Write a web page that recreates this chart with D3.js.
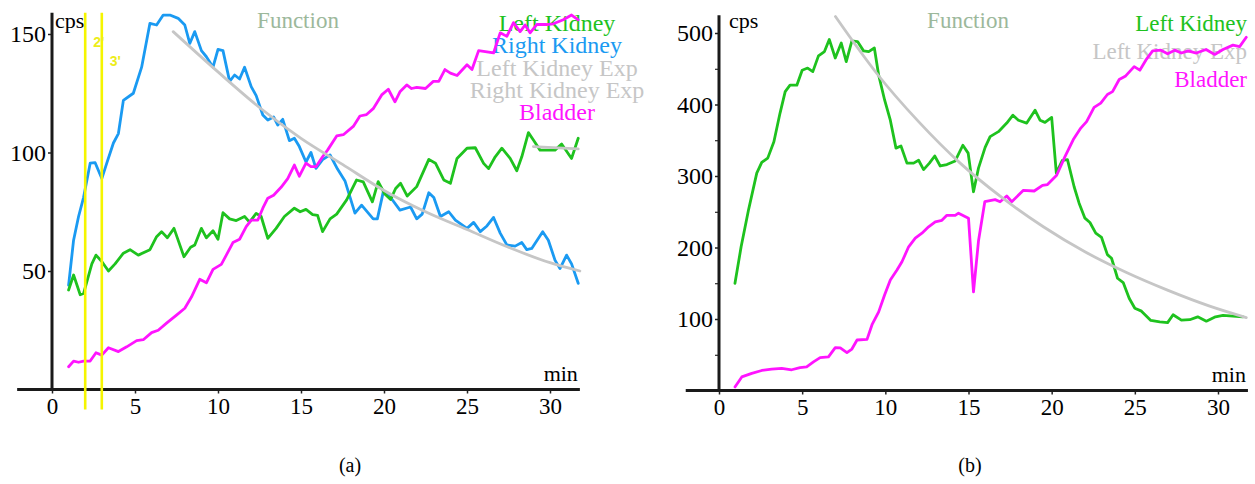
<!DOCTYPE html>
<head>
  <meta charset="utf-8">
  <script src="https://d3js.org/d3.v7.min.js"></script>
  <style>
    body { margin: 0; background: #fff; }
    svg text { font-family: "Liberation Serif", "DejaVu Serif", "Times New Roman", serif; }
    .line { fill: none; stroke-width: 2.8px; stroke-linejoin: round; stroke-linecap: round; }
    .axisline { stroke: #1a1a1a; stroke-width: 3px; }
  </style>
</head>

<body>
  <script>

    // ---- panel (a): [min, cps] ----
    var aRightKidney = [[1.0,44],[1.3,63],[1.6,73],[1.9,81],[2.3,95.5],[2.6,95.7],[3.0,89],[3.3,95.5],[3.7,104],[4.0,108],
      [4.3,122],[4.9,125],[5.4,136],[5.9,154.5],[6.3,153.8],[6.7,158],[7.1,158],[7.6,156.6],[8.0,153.8],[8.3,146],
      [8.6,151],[9.0,143],[9.3,140.4],[9.7,136],[10.0,143.5],[10.3,143],[10.7,130],[11.0,132.7],[11.3,131],[11.6,136],
      [12.0,127.8],[12.3,124],[12.7,115.8],[13.0,113.7],[13.35,115],[13.6,111.6],[13.9,114],[14.3,105],[14.6,106],[14.9,102.5],
      [15.3,96],[15.6,100],[15.9,93.3],[16.3,97],[16.75,99],[17.2,93],[17.65,88],[18.25,74.4],[18.65,77.8],[19.35,72],
      [19.6,72],[19.96,83.5],[20.4,81],[20.96,75.7],[21.6,77],[21.97,72],[22.3,74],[22.7,83],[23.0,81],[23.4,73],
      [23.9,75],[24.3,71.5],[25.0,68],[25.4,70.5],[25.8,66.6],[26.2,69],[26.6,72.6],[27.0,66],[27.4,61],[27.9,60.5],
      [28.3,62],[28.6,59],[28.9,59.5],[29.56,66.6],[29.9,63],[30.3,54.6],[30.6,51],[31.0,56.7],[31.3,53],[31.7,44.8]];

    var aLeftKidney = [[1.0,42],[1.3,48.3],[1.7,40],[1.9,40.5],[2.4,53],[2.65,56.7],[3.0,54],[3.4,50],[3.8,53],[4.3,57.5],
      [4.7,59],[5.2,56.7],[5.9,59],[6.3,64.5],[6.6,66.6],[6.95,64],[7.35,68],[7.95,56],[8.35,60],[8.6,61],
      [9.0,68],[9.3,64],[9.7,67],[10.0,63.4],[10.3,74.6],[10.7,72],[11.1,71.3],[11.6,73],[11.9,70.6],[12.3,74.3],
      [12.6,73],[13.0,63.8],[13.5,68],[14.0,73],[14.6,76.5],[14.95,75],[15.3,76],[15.7,73.8],[16.0,73.5],[16.3,66.6],
      [16.75,72],[17.15,74],[17.75,80],[18.35,88.4],[18.75,87.6],[19.3,79.2],[19.65,87.7],[20.05,82.5],[20.4,80.2],[20.7,84.8],
      [21.0,87],[21.4,81.6],[21.97,85.6],[22.7,97.1],[23.1,95.5],[23.6,88.4],[24.0,87],[24.4,97.5],[25.0,101.8],[25.5,102],
      [26.0,95.4],[26.3,93.2],[26.7,98.2],[27.1,101.8],[27.6,97.5],[28.0,92.3],[28.3,98.2],[28.7,108.4],[29.0,105.3],[29.4,101],
      [30.3,101],[30.7,103.6],[31.3,97.5],[31.7,106]];

    var aBladder = [[1.0,9.6],[1.3,12],[1.6,11.5],[1.9,12],[2.3,12],[2.65,15.5],[3.0,14.5],[3.4,17.6],[4.0,16],[4.5,18],
      [5.1,20.6],[5.5,21],[6.0,24],[6.4,25],[6.9,28],[7.5,31.4],[8.0,34.3],[8.4,39],[8.9,46.5],[9.3,45],
      [9.7,50.7],[10.2,52.8],[10.5,56.7],[10.9,62],[11.3,63.4],[11.7,68.7],[12.0,71.5],[12.4,71.5],[12.7,76.5],[13.0,80.7],
      [13.35,82],[13.8,85.3],[14.2,89],[14.6,94.7],[14.9,90],[15.3,95.5],[15.6,94],[15.9,94],[16.3,98.2],[16.6,101],
      [17.15,107],[17.55,107.5],[18.15,111],[18.55,115.4],[18.95,116],[19.35,118.5],[19.86,124.3],[20.26,126.7],[20.66,121.4],[20.96,125.6],
      [21.37,128.5],[21.66,127],[21.97,127.5],[22.5,127],[22.97,130],[23.3,130],[23.67,135],[24.0,133.5],[24.4,132.5],[25.0,137],
      [25.3,135],[25.7,143],[26.2,142.5],[26.6,142],[27.0,150.5],[27.4,149],[27.8,154.8],[28.2,151],[28.5,153.8],[28.8,150.5],
      [29.2,154],[29.8,154],[30.2,154.3],[30.8,156],[31.3,158],[31.7,156]];

    var aRightKidneyExp = [[7.3,151],[10,134],[12.5,119],[15,106],[17.5,95],[20,84],[22.5,75],[25,67.5],[27.5,60],[30,53.5],[31.8,50]];
    var aLeftKidneyExp = [[29.0,102.5],[31.7,101.5]];

    var aMarkers = [2, 3];           // minutes of the yellow lines
    var aMarkerLabels = ["2'", "3'"];

    // ---- panel (b) ----
    var bLeftKidney = [[0.96,150],[1.33,201],[1.77,252],[2.27,304],[2.57,319],[2.93,325],[3.3,348],[3.67,388],[3.98,418],[4.27,427],
      [4.68,427],[5.0,448],[5.33,451],[5.64,446],[5.98,468],[6.34,474],[6.63,491],[6.99,465],[7.35,486],[7.65,460],
      [7.99,489],[8.33,488],[8.69,475],[9.0,474],[9.34,479],[9.6,441],[9.96,406],[10.3,378],[10.64,339],[10.94,342],
      [11.3,318],[11.7,318],[12.0,322],[12.3,309],[12.65,318],[12.97,328],[13.3,314],[13.7,316],[14.2,321],[14.66,343],
      [14.98,332],[15.3,278],[15.6,311],[16.0,340],[16.3,355],[16.8,362],[17.3,374],[17.67,385],[18.0,378],[18.5,374],
      [19.0,392],[19.3,378],[19.6,375],[20.0,382],[20.28,304],[20.64,322],[20.95,323],[21.35,285],[21.65,262],[22.0,241],
      [22.3,235],[22.65,220],[23.0,214],[23.35,190],[23.6,185],[23.96,157],[24.3,151],[24.66,129],[25.0,115],[25.4,111],
      [25.96,98],[26.5,96],[26.97,95],[27.3,106],[27.8,98.5],[28.3,99],[28.78,103],[29.3,97],[29.85,103],[30.3,105],
      [30.9,104],[31.5,103]];

    var bBladder = [[0.96,5],[1.37,19],[1.97,24],[2.57,28],[3.17,30],[3.77,31],[4.37,29],[4.87,32],[5.27,33],[5.68,40],
      [6.08,46],[6.58,47],[6.99,60],[7.29,59.5],[7.69,53],[7.99,58],[8.3,70.6],[8.9,71.5],[9.2,92],[9.6,110],
      [9.96,134],[10.3,154.5],[10.7,168.5],[11.0,180],[11.4,201],[11.8,213],[12.2,220],[12.6,229],[13.0,236],[13.4,238],
      [13.7,245],[14.2,245],[14.4,248],[15.0,241],[15.3,138],[15.6,209],[15.98,264],[16.6,267],[16.9,264],[17.3,272],
      [17.6,264],[18.3,280],[18.95,279],[19.45,287],[19.75,288],[20.3,301],[20.8,327],[21.3,351],[21.75,367],[22.1,376],
      [22.55,396],[22.95,402],[23.35,414],[23.66,418],[24.06,435],[24.45,440],[24.96,453],[25.3,448],[25.66,462],[26.07,475],
      [26.57,476],[26.97,471],[27.4,476],[27.8,472],[28.2,475],[28.7,472],[29.28,477],[29.8,470],[30.3,477],[30.9,483],
      [31.3,481],[31.7,494]];

    var bLeftKidneyExp = [[7.0,523],[9.5,443],[12,376],[14.5,318],[17,270],[19.5,229],[22,194],[24.5,165],[27,140],[29.5,118],[31.7,102]];

    var xTicks = [0, 5, 10, 15, 20, 25, 30];
    var aYTicks = [50, 100, 150];
    var bYTicks = [100, 200, 300, 400, 500];
    var bYMinor = [50, 150, 250, 350, 450];

    var aLegend = ["Left Kidney", "Right Kidney", "Left Kidney Exp", "Right Kidney Exp", "Bladder"];
    var bLegend = ["Left Kidney", "Left Kidney Exp", "Bladder"];

    var col = {
      "Left Kidney": "#1ec21e",
      "Right Kidney": "#1a9af2",
      "Left Kidney Exp": "#c6c6c6",
      "Right Kidney Exp": "#c6c6c6",
      "Bladder": "#ff14ff"
    };

    var serif = '"Liberation Serif", "DejaVu Serif", serif';

    var svg = d3.select("body").append("svg")
      .attr("width", 1255)
      .attr("height", 484)
      .style("font-family", serif);

    function panel(p) {
      var x = d3.scaleLinear().domain([0, 30]).range(p.xRange);
      var y = d3.scaleLinear().domain([0, p.yTop]).range(p.yRange);
      var g = svg.append("g");

      var line = d3.line()
        .x(function(d) { return x(d[0]); })
        .y(function(d) { return y(d[1]); });
      var smooth = d3.line().curve(d3.curveMonotoneX)
        .x(function(d) { return x(d[0]); })
        .y(function(d) { return y(d[1]); });

      // titles and legend first, the curves cross over them
      g.append("text").text("Function")
        .attr("x", p.funcX).attr("y", 28)
        .attr("text-anchor", "middle")
        .style("font-family", serif)
        .style("font-size", "23px").style("fill", "#9cb89b");

      g.selectAll(".leg").data(p.legend).enter().append("text")
        .attr("class", "leg")
        .text(function(d) { return d; })
        .attr("x", p.legX)
        .attr("y", function(d, i) { return 31 + i * p.legStep; })
        .attr("text-anchor", p.legAnchor)
        .style("font-family", serif)
        .style("font-size", p.legSize)
        .style("fill", function(d) { return col[d]; });

      // axes
      var xa = g.append("g")
        .attr("transform", "translate(0," + y(0) + ")")
        .call(d3.axisBottom(x).tickValues(xTicks).tickSize(4).tickPadding(4));
      var ya = g.append("g")
        .attr("transform", "translate(" + x(0) + ",0)")
        .call(d3.axisLeft(y).tickValues(p.yTicks).tickSize(4).tickPadding(2));
      if (p.yMinor) {
        g.append("g")
          .attr("transform", "translate(" + x(0) + ",0)")
          .call(d3.axisLeft(y).tickValues(p.yMinor).tickSize(4).tickFormat(""))
          .select(".domain").remove();
      }
      [xa, ya].forEach(function(a, i) {
        a.attr("font-family", null);
        a.select(".domain").remove();
        a.selectAll("text").style("font-size", i ? "24px" : "23px").style("font-family", serif).style("fill", "#000");
        a.selectAll("line").style("stroke", "#222").style("stroke-width", 1.5);
      });

      g.append("line").attr("class", "axisline")
        .attr("x1", x(p.xFrom)).attr("x2", x(p.xTo))
        .attr("y1", y(0)).attr("y2", y(0));
      g.append("line").attr("class", "axisline")
        .attr("x1", x(0)).attr("x2", x(0))
        .attr("y1", y(0)).attr("y2", y(p.yAxisTop));

      g.append("text").text("cps")
        .attr("x", x(0) + p.cpsDx).attr("y", 28)
        .style("font-family", serif)
        .style("font-size", "22px");
      g.append("text").text("min")
        .attr("x", x(p.xTo) - 2).attr("y", y(0) - 9)
        .attr("text-anchor", "end")
        .style("font-family", serif)
        .style("font-size", "22px");

      // curves
      p.series.forEach(function(s) {
        g.append("path").datum(s.data)
          .attr("class", "line")
          .attr("d", s.smooth ? smooth : line)
          .style("stroke", col[s.name]);
      });

      g.append("text").text(p.label)
        .attr("x", p.labelX).attr("y", 472)
        .attr("text-anchor", "middle")
        .style("font-family", serif)
        .style("font-size", "20px");

      return { x: x, y: y, g: g };
    }

    var A = panel({
      xRange: [52, 550], yRange: [389.5, 34], yTop: 150,
      xFrom: -2.1, xTo: 31.8, yAxisTop: 159,
      yTicks: aYTicks, cpsDx: 3,
      funcX: 298, legend: aLegend, legX: 557, legStep: 22.3, legAnchor: "middle", legSize: "24px",
      label: "(a)", labelX: 350,
      series: [
        { name: "Right Kidney", data: aRightKidney },
        { name: "Left Kidney", data: aLeftKidney },
        { name: "Bladder", data: aBladder },
        { name: "Right Kidney Exp", data: aRightKidneyExp, smooth: true },
        { name: "Left Kidney Exp", data: aLeftKidneyExp }
      ]
    });

    // yellow 2' and 3' markers in panel (a)
    A.g.selectAll(".marker").data(aMarkers).enter().append("line")
      .attr("class", "marker")
      .attr("x1", function(d) { return A.x(d); })
      .attr("x2", function(d) { return A.x(d); })
      .attr("y1", A.y(159)).attr("y2", A.y(0) + 20)
      .style("stroke", "#f5f500").style("stroke-width", 2.6);
    A.g.selectAll(".mlabel").data(aMarkers).enter().append("text")
      .attr("class", "mlabel")
      .text(function(d, i) { return aMarkerLabels[i]; })
      .attr("x", function(d) { return A.x(d) + 8; })
      .attr("y", function(d, i) { return 47 + i * 19; })
      .style("font-size", "14px").style("font-weight", "bold")
      .style("font-family", "Liberation Sans")
      .style("fill", "#eded1a");

    panel({
      xRange: [719, 1218], yRange: [390.5, 33], yTop: 500,
      xFrom: -2.0, xTo: 31.8, yAxisTop: 525,
      yTicks: bYTicks, yMinor: bYMinor, cpsDx: 10,
      funcX: 968, legend: bLegend, legX: 1247, legStep: 28, legAnchor: "end", legSize: "23px",
      label: "(b)", labelX: 970,
      series: [
        { name: "Left Kidney", data: bLeftKidney },
        { name: "Bladder", data: bBladder },
        { name: "Left Kidney Exp", data: bLeftKidneyExp, smooth: true }
      ]
    });

  </script>
</body>
